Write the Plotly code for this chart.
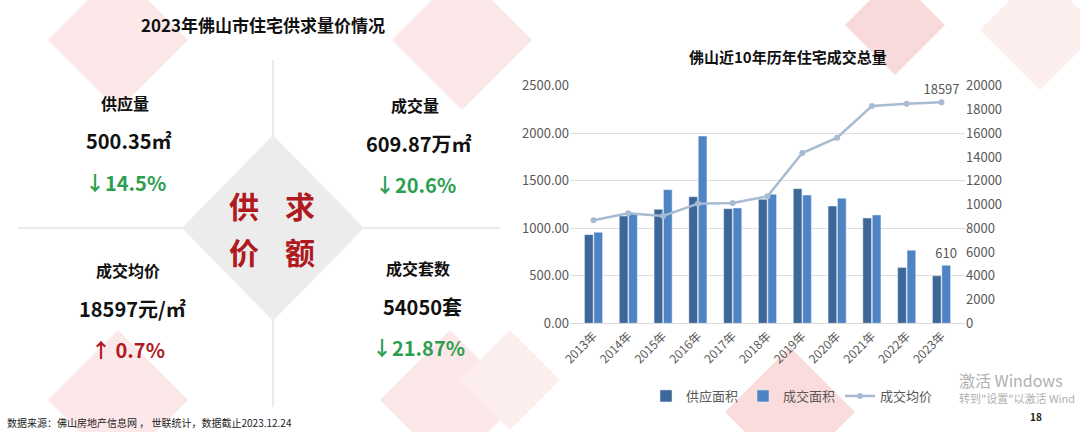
import plotly.graph_objects as go

# ---- data ----
years = ["2013年", "2014年", "2015年", "2016年", "2017年", "2018年",
         "2019年", "2020年", "2021年", "2022年", "2023年"]
supply_area = [933, 1129, 1199, 1332, 1206, 1304, 1417, 1234, 1108, 586, 500.35]
deal_area = [957, 1157, 1406, 1970, 1213, 1357, 1350, 1315, 1140, 768, 609.87]
avg_price = [8668, 9257, 9032, 10070, 10126, 10687, 14334, 15624, 18289, 18485, 18597]

left_title = "2023年佛山市住宅供求量价情况"
chart_title = "佛山近10年历年住宅成交总量"
quadrants = [
    # label, value, change, change colour
    ("供应量", "500.35㎡", "↓14.5%", "#2e9e50"),
    ("成交量", "609.87万㎡", "↓20.6%", "#2e9e50"),
    ("成交均价", "18597元/㎡", "↑ 0.7%", "#b0191e"),
    ("成交套数", "54050套", "↓21.87%", "#2e9e50"),
]
center_words = ["供", "求", "价", "额"]
source_note = "数据来源：佛山房地产信息网 ， 世联统计，数据截止2023.12.24"

W, H = 1080, 432
FONT = "Noto Sans CJK SC"
DARK = "#3d6699"
LIGHT = "#4f84c4"
LINE = "#a7bbd3"
GREY = "#595959"


def px(x):
    return x / W


def py(y):
    return 1 - y / H


fig = go.Figure()

fig.add_trace(go.Bar(
    x=years, y=supply_area, name="供应面积", marker_color=DARK,
))
fig.add_trace(go.Bar(
    x=years, y=deal_area, name="成交面积", marker_color=LIGHT,
    text=[""] * (len(years) - 1) + [f"{deal_area[-1]:.0f}"],
    textposition="outside", constraintext="none",
    textfont=dict(size=13, color=GREY, family=FONT),
    cliponaxis=False,
))
fig.add_trace(go.Scatter(
    x=years, y=avg_price, name="成交均价", yaxis="y2",
    mode="lines+markers+text",
    line=dict(color=LINE, width=2.5), marker=dict(color=LINE, size=6),
    text=[""] * (len(years) - 1) + [str(avg_price[-1])],
    textposition="top center", textfont=dict(size=13, color=GREY, family=FONT),
    cliponaxis=False,
))

shapes = []
annotations = []

# faint watermark diamonds
for cx, cy, r, col in [(118, 40, 70, "#fce8e8"), (462, 40, 70, "#fce8e8"),
                       (118, 400, 70, "#fce8e8"), (450, 400, 70, "#fce8e8"),
                       (895, 25, 50, "#f9dada"), (790, 412, 65, "#fadcdc"),
                       (1040, 30, 60, "#fdeeee"), (510, 380, 50, "#fdeeee")]:
    shapes.append(dict(
        type="path", xref="paper", yref="paper", layer="below",
        path=f"M {px(cx - r)} {py(cy)} L {px(cx)} {py(cy - r)} "
             f"L {px(cx + r)} {py(cy)} L {px(cx)} {py(cy + r)} Z",
        fillcolor=col, line=dict(width=0),
    ))

# cross lines of the left panel
shapes.append(dict(type="line", xref="paper", yref="paper", layer="below",
                   x0=px(273), x1=px(273), y0=py(60), y1=py(407),
                   line=dict(color="#e3e3e3", width=1.5)))
shapes.append(dict(type="line", xref="paper", yref="paper", layer="below",
                   x0=px(18), x1=px(500), y0=py(228), y1=py(228),
                   line=dict(color="#e3e3e3", width=1.5)))
# centre grey diamond
cx, cy = 273, 228
shapes.append(dict(
    type="path", xref="paper", yref="paper", layer="below",
    path=f"M {px(cx - 91)} {py(cy)} L {px(cx)} {py(cy - 93)} "
         f"L {px(cx + 91)} {py(cy)} L {px(cx)} {py(cy + 93)} Z",
    fillcolor="#ececec", line=dict(width=0),
))


def add_text(x, y, text, size, color="#111111", bold=True, xanchor="center"):
    annotations.append(dict(
        x=px(x), y=py(y), xref="paper", yref="paper", showarrow=False,
        text=f"<b>{text}</b>" if bold else text, xanchor=xanchor, yanchor="middle",
        font=dict(family=FONT, size=size, color=color),
    ))


add_text(263, 24, left_title, 17)
add_text(788, 57, chart_title, 15)

spots = [(125, 103), (415, 105), (128, 270), (418, 268)]
for (label, value, change, col), (qx, qy) in zip(quadrants, spots):
    add_text(qx, qy, label, 16)
    add_text(qx + 4, qy + 38, value, 20)
    add_text(qx, qy + 79, change, 20, color=col)

for word, (wx, wy) in zip(center_words, [(244, 205), (300, 205), (244, 251), (300, 251)]):
    add_text(wx, wy, word, 30, color="#b0191e")

add_text(5, 422, source_note, 10, color="#222222", bold=False, xanchor="left")
add_text(957, 380, "激活 Windows", 16, color="#b0b0b0", bold=False, xanchor="left")
add_text(957, 398, "转到\"设置\"以激活 Wind", 11, color="#b0b0b0", bold=False, xanchor="left")
add_text(1036, 416, "18", 10, color="#222222")

fig.update_layout(
    width=W, height=H,
    margin=dict(l=0, r=0, t=0, b=0, autoexpand=False),
    paper_bgcolor="white", plot_bgcolor="rgba(0,0,0,0)",
    font=dict(family=FONT, size=13, color=GREY),
    barmode="group", bargap=0.46, bargroupgap=0.08,
    xaxis=dict(domain=[px(570), px(965)], tickangle=-45, automargin=False,
               tickfont=dict(size=12, color=GREY), showline=True,
               linecolor="#d9d9d9", ticks=""),
    yaxis=dict(range=[0, 2500], dtick=500, tickformat=".2f", automargin=False,
               gridcolor="#dedede", zeroline=False,
               domain=[py(323.3), py(85.7)], tickfont=dict(size=13, color=GREY)),
    yaxis2=dict(range=[0, 20000], dtick=2000, tickformat="d", overlaying="y",
                side="right", automargin=False,
                showgrid=False, zeroline=False, tickfont=dict(size=13, color=GREY)),
    legend=dict(orientation="h", x=px(792), xanchor="center", y=py(396),
                yanchor="middle", font=dict(size=13, color=GREY),
                bgcolor="rgba(0,0,0,0)"),
    showlegend=True,
    shapes=shapes, annotations=annotations,
)

# drop the default page margin so the figure sits at the window corner
fig.write_html("out.html", config={"displayModeBar": False},
               post_script="document.body.style.margin='0';")
